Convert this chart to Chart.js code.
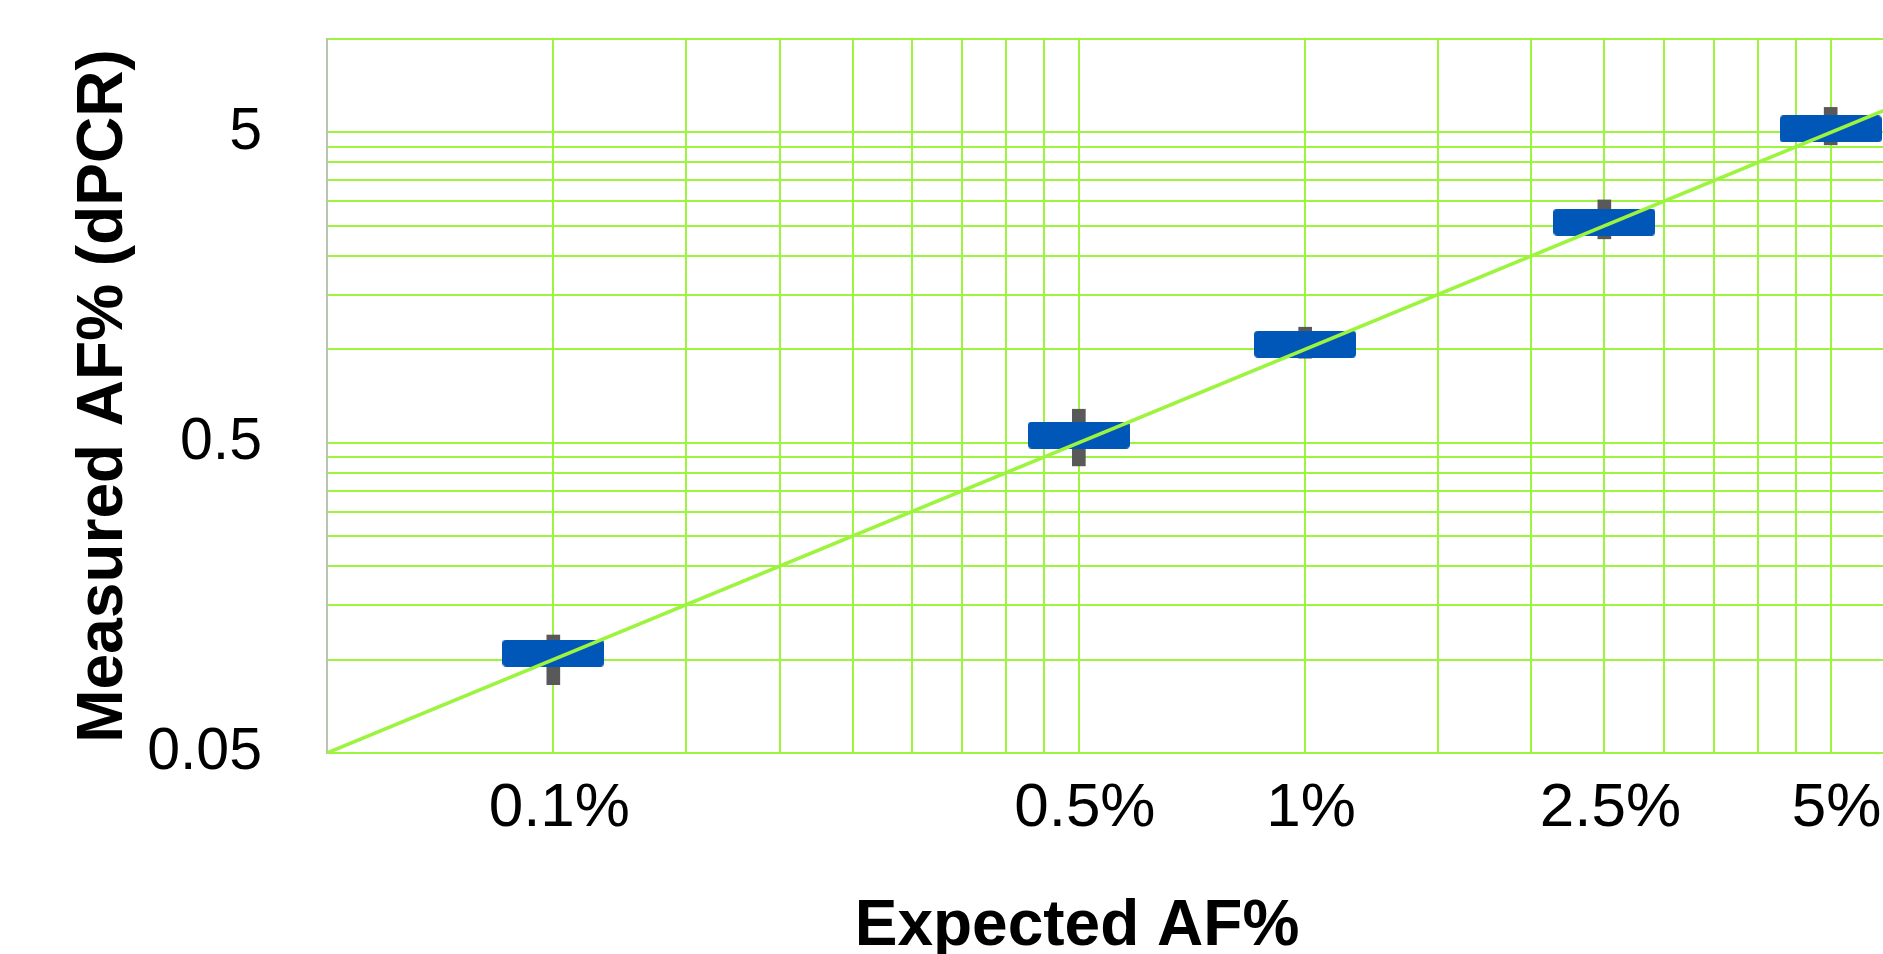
<!DOCTYPE html>
<html>
<head>
<meta charset="utf-8">
<title>Measured vs expected AF%</title>
<script src="https://cdn.jsdelivr.net/npm/chart.js@4.4.1/dist/chart.umd.min.js"></script>
<style>
  html, body { margin: 0; padding: 0; background: #ffffff; overflow: hidden; }
  #wrap { width: 1883px; height: 954px; overflow: hidden; position: relative; }
  canvas { display: block; }
</style>
</head>
<body>
<div id="wrap"><canvas id="chart" width="2072" height="954"></canvas></div>
<script>
// Expected allele fraction (%) of each dilution and the dPCR measurement summary.
const expectedAF     = [0.1, 0.5, 1, 2.5, 5];
const measuredMedian = [0.105, 0.529, 1.039, 2.57, 5.13];
const measuredLow    = [0.083, 0.421, 0.936, 2.27, 4.56];
const measuredHigh   = [0.120, 0.641, 1.178, 3.03, 6.02];

// Axis range and grid positions (both axes share the same log grid).
const axisMin = 0.05;
const axisMax = 10;
const xGridValues = [0.1, 0.15, 0.2, 0.25, 0.3, 0.35, 0.4, 0.45, 0.5,
                     1, 1.5, 2, 2.5, 3, 3.5, 4, 4.5, 5, 10];
const yGridValues = [0.05, 0.1, 0.15, 0.2, 0.25, 0.3, 0.35, 0.4, 0.45, 0.5,
                     1, 1.5, 2, 2.5, 3, 3.5, 4, 4.5, 5, 10];

// Labelled ticks.
const xLabelValues = [0.1, 0.5, 1, 2.5, 5];
const xTickLabels  = ['0.1%', '0.5%', '1%', '2.5%', '5%'];
const yLabelValues = [0.05, 0.5, 5];
const yTickLabels  = ['0.05', '0.5', '5'];

// Identity line (measured = expected) across the full axis range.
const identityValues = [axisMin, axisMax];

const FONT = '"Liberation Sans", Arial, Helvetica, sans-serif';
const GREEN = '#9cf43e';
const BLUE = '#0057b7';
const GREY = '#595959';

function labelFor(values, labels, v) {
  const i = values.findIndex(t => Math.abs(t - v) < 1e-9);
  return i >= 0 ? labels[i] : '';
}

// Rounded blue box used as the marker for each median.
function boxMarker(w, h, r, color) {
  const c = document.createElement('canvas');
  c.width = w; c.height = h;
  const g = c.getContext('2d');
  g.fillStyle = color;
  g.beginPath();
  g.moveTo(r, 0);
  g.lineTo(w - r, 0); g.quadraticCurveTo(w, 0, w, r);
  g.lineTo(w, h - r); g.quadraticCurveTo(w, h, w - r, h);
  g.lineTo(r, h); g.quadraticCurveTo(0, h, 0, h - r);
  g.lineTo(0, r); g.quadraticCurveTo(0, 0, r, 0);
  g.closePath();
  g.fill();
  return c;
}

const medianPoints = expectedAF.map((x, i) => ({ x: x, y: measuredMedian[i] }));
const rangeBars = expectedAF.map((x, i) => ({ x: x, y: [measuredLow[i], measuredHigh[i]] }));
const identityPoints = identityValues.map(v => ({ x: v, y: v }));

// Horizontal axis title, drawn under the tick labels.
const xAxisTitle = {
  id: 'xAxisTitle',
  afterDraw(chart) {
    const { ctx, chartArea } = chart;
    ctx.save();
    ctx.font = 'bold 64px ' + FONT;
    ctx.fillStyle = '#000000';
    ctx.textAlign = 'center';
    ctx.textBaseline = 'alphabetic';
    ctx.fillText('Expected AF%', chartArea.left + 750, chartArea.bottom + 192);
    ctx.restore();
  }
};

new Chart(document.getElementById('chart'), {
  type: 'scatter',
  data: {
    datasets: [
      {
        type: 'line',
        data: identityPoints,
        borderColor: GREEN,
        borderWidth: 3.5,
        pointRadius: 0,
        fill: false,
        order: 0
      },
      {
        type: 'scatter',
        data: medianPoints,
        pointStyle: boxMarker(102, 27, 4, BLUE),
        pointRadius: 14,
        order: 1
      },
      {
        type: 'bar',
        data: rangeBars,
        backgroundColor: GREY,
        borderWidth: 0,
        barThickness: 13,
        order: 2
      }
    ]
  },
  options: {
    responsive: false,
    animation: false,
    events: [],
    layout: { padding: { top: 39, right: 0, bottom: 0, left: 0 } },
    plugins: { legend: { display: false }, tooltip: { enabled: false } },
    scales: {
      x: {
        type: 'logarithmic',
        position: 'bottom',
        min: axisMin,
        max: axisMax,
        offset: false,
        afterBuildTicks: s => { s.ticks = xGridValues.map(v => ({ value: v })); },
        afterFit: s => { s.height = 201; s.paddingLeft = 0; s.paddingRight = 0; },
        grid: { color: GREEN, lineWidth: 2, drawTicks: false, offset: false },
        border: { color: GREEN, width: 2 },
        ticks: {
          autoSkip: false,
          maxRotation: 0,
          minRotation: 0,
          padding: 19,
          labelOffset: 6,
          color: '#000000',
          font: { family: FONT, size: 62 },
          callback: v => labelFor(xLabelValues, xTickLabels, v)
        }
      },
      y: {
        type: 'logarithmic',
        position: 'left',
        min: axisMin,
        max: axisMax,
        afterBuildTicks: s => { s.ticks = yGridValues.map(v => ({ value: v })); },
        afterFit: s => { s.width = 327; s.paddingTop = 0; s.paddingBottom = 0; },
        grid: { color: GREEN, lineWidth: 2, drawTicks: false },
        border: { color: '#b9c6ad', width: 2 },
        ticks: {
          autoSkip: false,
          padding: 65,
          color: '#000000',
          font: { family: FONT, size: 59 },
          callback: v => labelFor(yLabelValues, yTickLabels, v)
        },
        title: {
          display: true,
          text: 'Measured AF% (dPCR)',
          color: '#000000',
          font: { family: FONT, size: 64, weight: 'bold' },
          padding: { top: 66, bottom: 0 }
        }
      }
    }
  },
  plugins: [xAxisTitle]
});
</script>
</body>
</html>
